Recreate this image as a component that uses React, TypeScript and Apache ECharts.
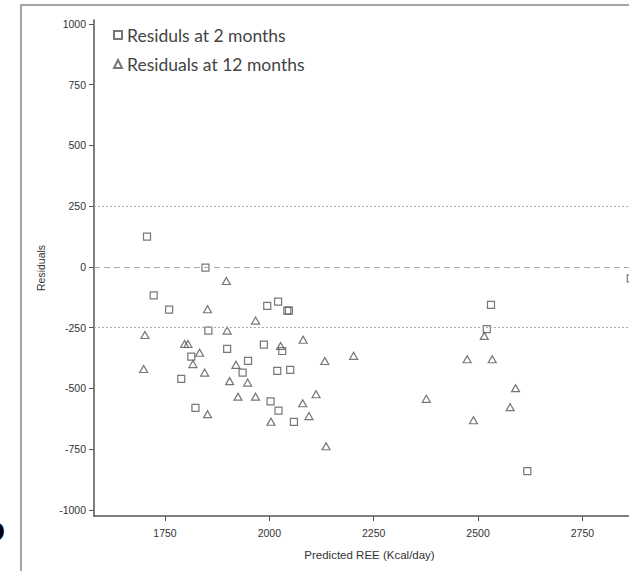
import React, { useEffect, useRef } from "react";
import * as echarts from "echarts";

const xTicks = [1750, 2000, 2250, 2500, 2750];
const yTicks = [-1000, -750, -500, -250, 0, 250, 500, 750, 1000];
const refLines = [250, 0, -250];

const residuals2m: [number, number][] = [
  [1707, 125], [1847, -3], [1723, -117], [1760, -176], [1854, -262],
  [1899, -337], [1995, -160], [2021, -143], [2043, -180], [2047, -180],
  [1987, -320], [2031, -346], [1813, -369], [1789, -461], [1949, -387],
  [1936, -435], [2019, -428], [2050, -424], [2003, -553], [2022, -591],
  [1823, -580], [2059, -638], [2531, -156], [2521, -256], [2618, -840],
  [2866, -47],
];

const residuals12m: [number, number][] = [
  [1897, -58], [1852, -174], [1967, -221], [1899, -262], [1702, -280],
  [1797, -317], [1805, -317], [2027, -325], [2081, -300], [1833, -353],
  [1699, -420], [1817, -400], [1845, -435], [1920, -403], [1905, -470],
  [1948, -476], [2133, -387], [2202, -366], [1925, -534], [1967, -534],
  [2080, -561], [2112, -524], [2095, -614], [1852, -606], [2004, -637],
  [2136, -738], [2515, -284], [2474, -380], [2534, -380], [2590, -499],
  [2376, -543], [2577, -577], [2489, -631],
];

export default function App() {
  const ref = useRef<HTMLDivElement>(null);
  useEffect(() => {
    if (!ref.current) return;
    const chart = echarts.init(ref.current, undefined, { renderer: "svg" });
    const axisFont = { fontFamily: "Liberation Sans, Arial, sans-serif", fontSize: 10.5, color: "#333" };
    chart.setOption({
      animation: false,
      backgroundColor: "#fff",
      grid: { left: 94, right: 15, top: 20, bottom: 55 },
      legend: {
        orient: "vertical",
        left: 108,
        top: 21,
        itemWidth: 8,
        itemHeight: 8,
        itemGap: 11,
        textStyle: { fontFamily: "Lato, sans-serif", fontSize: 17.5, color: "#444" },
        data: ["Residuls at 2 months", "Residuals at 12 months"],
      },
      xAxis: {
        type: "value",
        min: 1580,
        max: 2900,
        name: "Predicted REE (Kcal/day)",
        nameLocation: "middle",
        nameGap: 33,
        nameTextStyle: { fontFamily: "Liberation Sans, Arial, sans-serif", fontSize: 11.5, color: "#333" },
        axisLine: { show: true, onZero: false, lineStyle: { color: "#555", width: 1.5 } },
        axisTick: { show: true, length: 5, customValues: xTicks, lineStyle: { color: "#555" } },
        axisLabel: { customValues: xTicks, margin: 11, formatter: (v: number) => String(v), ...axisFont },
        splitLine: { show: false },
      },
      yAxis: {
        type: "value",
        min: -1025,
        max: 1016,
        name: "Residuals",
        nameLocation: "middle",
        nameGap: 48,
        nameTextStyle: { fontFamily: "Liberation Sans, Arial, sans-serif", fontSize: 10.5, color: "#333" },
        axisLine: { show: true, onZero: false, lineStyle: { color: "#555", width: 1.5 } },
        axisTick: { show: true, length: 5, customValues: yTicks, lineStyle: { color: "#555" } },
        axisLabel: { customValues: yTicks, margin: 8, formatter: (v: number) => String(v), ...axisFont },
        splitLine: { show: false },
      },
      graphic: [
        {
          type: "rect",
          shape: { x: 21, y: 5, width: 800, height: 800 },
          style: { fill: "none", stroke: "#888", lineWidth: 1.5 },
          silent: true,
        },
        {
          type: "text",
          x: 5,
          y: 531,
          style: {
            text: "D",
            font: "bold 28px Liberation Sans, Arial, sans-serif",
            fill: "#000",
            align: "right",
            verticalAlign: "middle",
          },
        },
      ],
      series: [
        {
          name: "Residuls at 2 months",
          type: "scatter",
          symbol: "rect",
          symbolSize: 7,
          itemStyle: { color: "rgba(0,0,0,0)", borderColor: "#555", borderWidth: 1.2 },
          data: residuals2m,
          z: 3,
          markLine: {
            silent: true,
            symbol: "none",
            label: { show: false },
            data: refLines.map((v) => ({
              yAxis: v,
              lineStyle: {
                color: "#aaa",
                width: 1,
                type: v === 0 ? [6, 4] : [2, 2],
              },
            })),
          },
        },
        {
          name: "Residuals at 12 months",
          type: "scatter",
          symbol: "triangle",
          symbolSize: [8, 7],
          itemStyle: { color: "rgba(0,0,0,0)", borderColor: "#555", borderWidth: 1.2 },
          data: residuals12m,
          z: 3,
        },
      ],
    });
    return () => chart.dispose();
  }, []);
  return (
    <div
      ref={ref}
      style={{ position: "fixed", left: 0, top: 0, width: 660, height: 571, background: "#fff" }}
    />
  );
}
